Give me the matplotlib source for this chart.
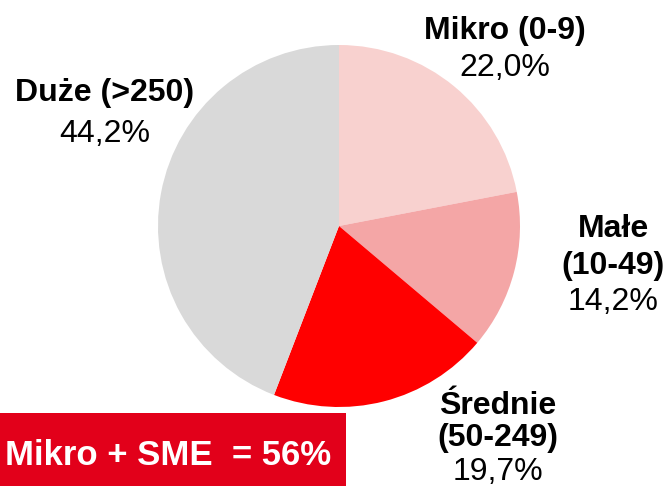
import matplotlib
matplotlib.use("Agg")
import matplotlib.pyplot as plt
from matplotlib.patches import Rectangle

plt.rcParams["font.family"] = ["Liberation Sans", "DejaVu Sans"]

# data
names = ["Mikro (0-9)", "Małe\n(10-49)", "Średnie\n(50-249)", "Duże (>250)"]
shares = [22.0, 14.2, 19.7, 44.2]
colors = ["#F8D1CF", "#F4A6A6", "#FF0000", "#D9D9D9"]
box_text = "Mikro + SME  = 56%"

# layout (pixels, measured from top): label centre x and line baselines
label_pos = [
    (505, [39, 76]),
    (613, [237, 274, 310]),
    (498, [414, 446, 480]),
    (105, [101, 142]),
]

W, H = 666, 486
fig = plt.figure(figsize=(W / 100, H / 100), dpi=100)
ax = fig.add_axes([0, 0, 1, 1])

ax.pie(
    shares,
    colors=colors,
    startangle=90,
    counterclock=False,
    center=(339, H - 226),
    radius=181,
    wedgeprops={"linewidth": 0},
)

ax.set_xlim(0, W)
ax.set_ylim(0, H)
ax.set_aspect("equal")
ax.axis("off")

for name, share, (x, baselines) in zip(names, shares, label_pos):
    lines = name.split("\n")
    value = f"{share:.1f}%".replace(".", ",")
    for line, y in zip(lines, baselines):
        ax.text(x, H - y, line, ha="center", va="baseline",
                fontsize=23, fontweight="bold", color="black")
    ax.text(x, H - baselines[-1], value, ha="center", va="baseline",
            fontsize=23, color="black")

# red summary box
ax.add_patch(Rectangle((0, 0), 346, H - 413, color="#E2001A", lw=0))
ax.text(5, H - 465, box_text, ha="left", va="baseline",
        fontsize=25, fontweight="bold", color="white")

fig.savefig("out.png", dpi=100)
